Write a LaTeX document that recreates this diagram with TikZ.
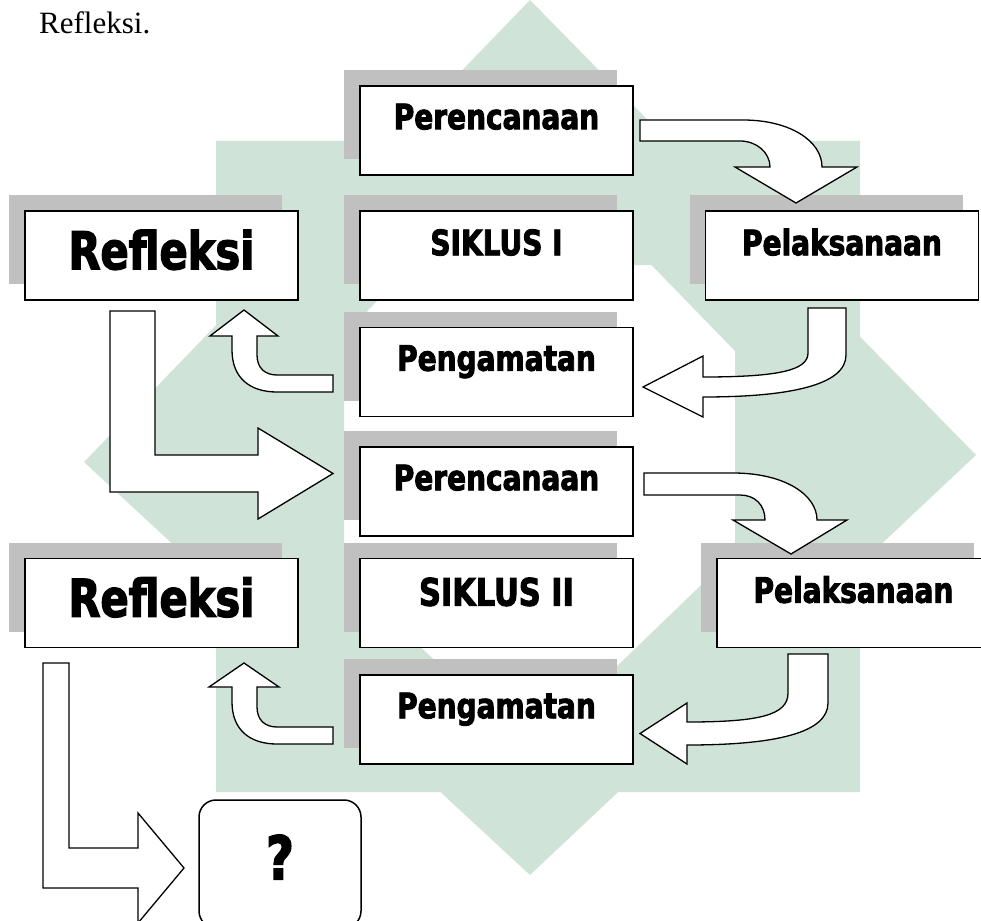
\documentclass[tikz,border=0pt]{standalone}
\usepackage{fontspec}
\setmainfont{Liberation Serif}
\newfontfamily\heavyfont[FakeStretch=0.8,FakeBold=2.5]{DejaVu Sans Bold}
\usetikzlibrary{shadows}
\definecolor{shadowgray}{RGB}{192,192,192}
\definecolor{wmgreen}{RGB}{208,227,217}

\begin{document}
\begin{tikzpicture}[x=1pt, y=-1pt,
  box/.style = {draw, line width=1.5pt, fill=white, inner sep=0pt,
    minimum width=273pt, minimum height=89pt,
    drop shadow={shadow xshift=-16pt, shadow yshift=16pt, fill=shadowgray, opacity=1}},
  boxtext/.style = {anchor=base, inner sep=0pt, font=\heavyfont\fontsize{35}{40}\selectfont},
  bigtext/.style = {boxtext, font=\heavyfont\fontsize{52}{60}\selectfont},
  blockarrow/.style = {draw, fill=white, line width=1.3pt, line join=miter},
  ]
  \useasboundingbox (0,0) rectangle (981,920);
  \clip (0,0) rectangle (981,920);

  % watermark in the background
  \fill[wmgreen, even odd rule] (530,0) -- (976,455) -- (530,875) -- (84,462) -- cycle
    (530,140) -- (836,455) -- (530,750) -- (224,462) -- cycle;
  \fill[wmgreen, even odd rule] (216,141) rectangle (860,792) (344,265) rectangle (735,670);

  \node[anchor=base west, inner sep=0pt, font=\fontsize{31}{36}\selectfont] (intro) at (39,34) {Refleksi.};

  % siklus I
  \node[box] (plan1) at (496.5,130.5) {};
  \node[box] (cycle1) at (496.5,255.5) {};
  \node[box] (act1) at (842,255.5) {};
  \node[box] (refl1) at (161.5,255.5) {};
  \node[box] (obs1) at (496.5,372) {};
  \node[boxtext] at ([yshift=-44pt]plan1.north) {Perencanaan};
  \node[boxtext] at ([yshift=-45pt]cycle1.north) {SIKLUS I};
  \node[boxtext] at ([yshift=-45pt]act1.north) {Pelaksanaan};
  \node[bigtext] at ([yshift=-59pt]refl1.north) {Refleksi};
  \node[boxtext] at ([yshift=-44pt]obs1.north) {Pengamatan};

  % siklus II
  \node[box] (plan2) at (496.5,491.5) {};
  \node[box] (cycle2) at (496.5,603) {};
  \node[box] (act2) at (853.5,603) {};
  \node[box] (refl2) at (161.5,603) {};
  \node[box] (obs2) at (496.5,719.5) {};
  \node[boxtext] at ([yshift=-44pt]plan2.north) {Perencanaan};
  \node[boxtext, font=\heavyfont\fontsize{38}{44}\selectfont] at ([yshift=-48pt]cycle2.north) {SIKLUS II};
  \node[boxtext] at ([yshift=-45pt]act2.north) {Pelaksanaan};
  \node[bigtext] at ([yshift=-59pt]refl2.north) {Refleksi};
  \node[boxtext] at ([yshift=-44pt]obs2.north) {Pengamatan};

  \node[draw, line width=1.5pt, fill=white, rounded corners=17pt, minimum width=162pt,
    minimum height=128pt] (next) at (280,864) {};
  \node[boxtext, font=\heavyfont\fontsize{60}{66}\selectfont] at ([yshift=-80pt]next.north) {?};

  % block arrows
  \draw[blockarrow] (640,120) -- (743,120) .. controls (790,120) and (822,141) .. (822,167)
    -- (857,167) -- (796,203) -- (735,167) -- (770,167)
    .. controls (770,153) and (757,141) .. (740,141) -- (640,141) -- cycle; % plan1 -> act1
  \draw[blockarrow] (808,308) -- (846,308) -- (846,355) .. controls (846,385) and (790,397) .. (703,397)
    -- (703,417) -- (643,387) -- (703,356) -- (703,377)
    .. controls (780,377) and (808,370) .. (808,353) -- cycle; % act1 -> obs1
  \draw[blockarrow] (333,375) -- (333,392) -- (277,392) .. controls (250,392) and (232,378) .. (232,350)
    -- (232,336) -- (210,336) -- (244,310) -- (278,336) -- (257,336) -- (257,355)
    .. controls (257,368) and (265,375) .. (277,375) -- cycle; % obs1 -> refl1
  \draw[blockarrow] (110,311) -- (155,311) -- (155,455) -- (258,455) -- (258,428) -- (333,473.5)
    -- (258,519) -- (258,492) -- (110,492) -- cycle; % refl1 -> plan2

  \draw[blockarrow] (644,473) -- (733,473) .. controls (785,473) and (817,495) .. (817,520)
    -- (847,520) -- (791,554) -- (733,520) -- (765,520)
    .. controls (765,505) and (755,495) .. (740,495) -- (644,495) -- cycle; % plan2 -> act2
  \draw[blockarrow] (788,654) -- (828,654) -- (828,703) .. controls (828,733) and (775,745) .. (687,745)
    -- (687,764) -- (640,733.5) -- (687,703) -- (687,722)
    .. controls (760,722) and (788,715) .. (788,693) -- cycle; % act2 -> obs2
  \draw[blockarrow] (333,727) -- (333,744) -- (277,744) .. controls (250,744) and (232,730) .. (232,702)
    -- (232,687) -- (209,687) -- (244,663) -- (279,687) -- (257,687) -- (257,707)
    .. controls (257,720) and (265,727) .. (277,727) -- cycle; % obs2 -> refl2
  \draw[blockarrow] (43,663) -- (69,663) -- (69,848) -- (138,848) -- (138,813) -- (184,868)
    -- (138,923) -- (138,888) -- (43,888) -- cycle; % refl2 -> next
\end{tikzpicture}
\end{document}
